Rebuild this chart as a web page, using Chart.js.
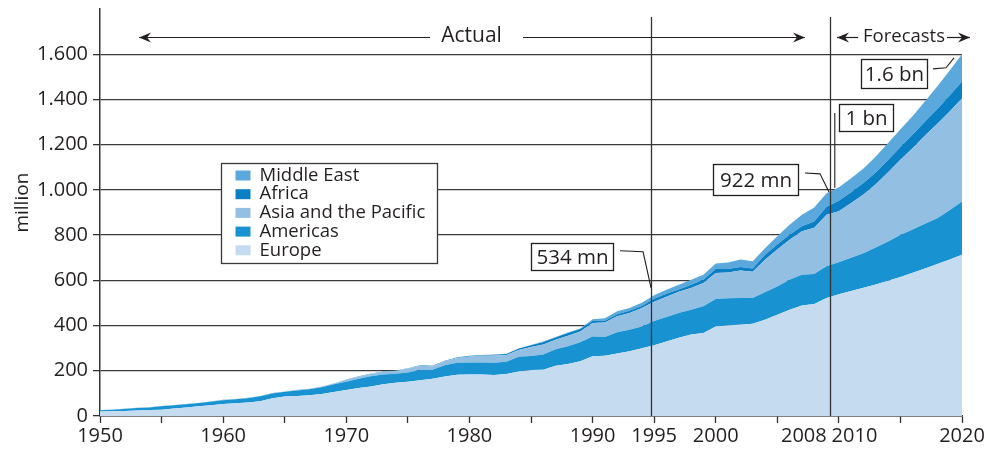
<!DOCTYPE html>
<html>
<head>
<meta charset="utf-8">
<script src="https://cdn.jsdelivr.net/npm/chart.js@4.4.1/dist/chart.umd.min.js"></script>
<style>
  html, body { margin: 0; padding: 0; background: #ffffff; }
  #wrap { width: 984px; height: 452px; }
</style>
</head>
<body>
<div id="wrap"><canvas id="chart" width="984" height="452"></canvas></div>
<script>
// International tourist arrivals by region, million (actual to 2008, forecasts to 2020)
const years = [1950,1951,1952,1953,1954,1955,1956,1957,1958,1959,
               1960,1961,1962,1963,1964,1965,1966,1967,1968,1969,
               1970,1971,1972,1973,1974,1975,1976,1977,1978,1979,
               1980,1981,1982,1983,1984,1985,1986,1987,1988,1989,
               1990,1991,1992,1993,1994,1995,1996,1997,1998,1999,
               2000,2001,2002,2003,2004,2005,2006,2007,2008,2009,
               2010,2011,2012,2013,2014,2015,2016,2017,2018,2019,2020];

const europe = [20,21,22,24,26,28,33,38,43,48,
                53,56,60,65,78,86,89,92,97,106,
                115,124,131,140,147,152,158,165,175,182,
                183,183,181,186,197,203,205,222,230,242,
                264,266,276,286,300,313,330,346,360,367,
                396,401,404,408,426,448,470,489,495,522,
                538,553,567,582,598,615,633,652,672,692,713];

const americas = [5,7,9,11,12,15,15,14,14,15,
                  17,18,19,22,22,21,24,26,30,34,
                  37,41,45,43,40,40,45,40,50,54,
                  54,54,55,54,65,62,67,73,78,84,
                  88,83,94,96,96,107,108,110,110,118,
                  121,120,118,114,121,125,133,136,133,140,
                  142,147,153,163,174,185,192,198,203,218,236];

const asiaPacific = [0.5,0.5,0.5,0.5,0.5,0.5,0.5,0.5,0.5,0.5,
                     1,1,1,1,1,1,2,2,3,3,
                     8,9,10,12,13,18,19,15,17,21,
                     26,29,32,30,30,40,44,42,47,48,
                     59,65,71,74,82,85,89,93,96,103,
                     115,114,122,116,144,163,177,192,205,228,
                     225,242,260,280,306,333,360,390,417,437,456];

const africa = [0.3,0.3,0.3,0.3,0.3,0.3,0.3,0.3,0.3,0.3,
                0.5,0.5,0.5,0.5,0.5,0.5,0.5,0.5,0.5,0.5,
                1,1,1,1,1,1,2,2,2,2,
                3,3,3,4,6,8,11,10,12,11,
                9,7,9,10,9,13,14,11,15,15,
                18,15,15,14,22,22,22,22,27,35,
                47,48,50,52,54,57,60,62,66,70,74];

const middleEast = [0.2,0.2,0.2,0.2,0.2,0.2,0.2,0.2,0.2,0.2,
                    0.2,0.2,0.2,0.2,0.2,0.2,0.2,0.2,0.2,0.2,
                    0.5,0.5,0.5,0.5,0.5,0.5,0.5,0.5,0.5,0.5,
                    1,1,1,1,1,1,2,2,2,2,
                    8,11,13,12,14,16,17,20,22,22,
                    24,29,33,32,29,37,44,51,62,60,
                    60,62,65,71,75,78,82,90,100,111,121];

const yTickValues = [0,200,400,600,800,1000,1200,1400,1600];
const xTickYears = [1950,1955,1960,1965,1970,1975,1980,1985,1990,1995,2000,2005,2008,2010,2015,2020];
const xLabelYears = [1950,1960,1970,1980,1990,1995,2000,2008,2010,2020];

const seriesNames = ['Europe','Americas','Asia and the Pacific','Africa','Middle East'];
const seriesValues = [europe, americas, asiaPacific, africa, middleEast];
const seriesColors = ['#c5dcf0','#1892d1','#93bfe3','#0a7fc4','#5ba8dc'];

// call-out boxes: x in years, y in million
const callouts = [
  { text: '534 mn', box: [1984.98, 764.6, 1991.68, 646.6], leader: [[1992.23, 730.6], [1994.10, 726.2], [1994.75, 567]] },
  { text: '922 mn', box: [1999.80, 1113, 2006.70, 978], leader: [[2007.25, 1075], [2008.47, 1071], [2009.2, 991]] },
  { text: '1 bn',   box: [2010.04, 1380, 2014.37, 1262], leader: [[2009.67, 1340], [2009.67, 1010]] },
  { text: '1.6 bn', box: [2011.78, 1578, 2017.13, 1450], leader: [[2017.65, 1535], [2018.70, 1540], [2019.35, 1584]] }
];
const dividerYears = [1994.75, 2009.25];

const INK = '#231f20';
const LINE = '#333333';
const FONT = '"Open Sans", "Noto Sans", sans-serif';

function thousands(v) {
  if (v >= 1000) return Math.floor(v / 1000) + '.' + String(v % 1000).padStart(3, '0');
  return String(v);
}

function xLabel(v) {
  if (!xLabelYears.includes(v)) return '';
  if (v === 2008) return '2008    ';
  if (v === 2010) return '      2010';
  return String(v);
}

function arrowHead(ctx, tipX, y, dir) {
  const len = 12, half = 5, notch = 8;
  ctx.beginPath();
  ctx.moveTo(tipX, y);
  ctx.lineTo(tipX - dir * len, y - half);
  ctx.lineTo(tipX - dir * notch, y);
  ctx.lineTo(tipX - dir * len, y + half);
  ctx.closePath();
  ctx.fill();
}

const overlay = {
  id: 'overlay',
  afterDatasetsDraw(chart) {
    const { ctx, scales: { x, y } } = chart;
    ctx.save();
    ctx.strokeStyle = LINE;
    ctx.lineWidth = 1.3;
    dividerYears.forEach(yr => {
      const px = Math.round(x.getPixelForValue(yr)) + 0.5;
      ctx.beginPath();
      ctx.moveTo(px, y.getPixelForValue(1765));
      ctx.lineTo(px, y.getPixelForValue(0));
      ctx.stroke();
    });
    ctx.restore();
  },
  afterDraw(chart) {
    const { ctx, scales: { x, y } } = chart;
    ctx.save();
    ctx.fillStyle = INK;
    ctx.strokeStyle = INK;

    // period arrows along the top
    const ay = Math.round(y.getPixelForValue(1676)) + 0.5;
    ctx.lineWidth = 1.2;
    const segs = [[1953.17, 1976.8], [1984.35, 2007.25], [2009.85, 2011.56], [2018.78, 2020.65]];
    segs.forEach(([a, b]) => {
      ctx.beginPath();
      ctx.moveTo(x.getPixelForValue(a), ay);
      ctx.lineTo(x.getPixelForValue(b), ay);
      ctx.stroke();
    });
    arrowHead(ctx, x.getPixelForValue(1953.17), ay, -1);
    arrowHead(ctx, x.getPixelForValue(2007.25), ay, 1);
    arrowHead(ctx, x.getPixelForValue(2009.85), ay, -1);
    arrowHead(ctx, x.getPixelForValue(2020.65), ay, 1);
    ctx.textAlign = 'center';
    ctx.textBaseline = 'middle';
    ctx.font = '21px ' + FONT;
    ctx.fillText('Actual', x.getPixelForValue(1980.17), ay - 1);
    ctx.font = '18.5px ' + FONT;
    ctx.fillText('Forecasts', x.getPixelForValue(2015.29), ay - 1);

    // call-outs
    callouts.forEach(c => {
      ctx.lineWidth = 1.1;
      ctx.strokeStyle = INK;
      ctx.beginPath();
      c.leader.forEach(([lx, ly], i) => {
        const px = x.getPixelForValue(lx), py = y.getPixelForValue(ly);
        if (i === 0) ctx.moveTo(px, py); else ctx.lineTo(px, py);
      });
      ctx.stroke();
      const x0 = Math.round(x.getPixelForValue(c.box[0])) + 0.5;
      const y0 = Math.round(y.getPixelForValue(c.box[1])) + 0.5;
      const x1 = Math.round(x.getPixelForValue(c.box[2])) + 0.5;
      const y1 = Math.round(y.getPixelForValue(c.box[3])) + 0.5;
      ctx.fillStyle = '#ffffff';
      ctx.fillRect(x0, y0, x1 - x0, y1 - y0);
      ctx.lineWidth = 1.3;
      ctx.strokeRect(x0, y0, x1 - x0, y1 - y0);
      ctx.fillStyle = INK;
      ctx.font = '20.5px ' + FONT;
      ctx.textAlign = 'center';
      ctx.textBaseline = 'middle';
      ctx.fillText(c.text, (x0 + x1) / 2, (y0 + y1) / 2 + 1);
    });

    // legend box
    const lx = Math.round(x.getPixelForValue(1959.83)) + 0.5;
    const ly = Math.round(y.getPixelForValue(1120)) + 0.5;
    const lw = 216, lh = 100;
    ctx.fillStyle = '#ffffff';
    ctx.fillRect(lx, ly, lw, lh);
    ctx.lineWidth = 1.3;
    ctx.strokeStyle = '#3a3a3a';
    ctx.strokeRect(lx, ly, lw, lh);
    ctx.font = '18.5px ' + FONT;
    ctx.textAlign = 'left';
    ctx.textBaseline = 'middle';
    const order = chart.data.datasets.slice().reverse();
    order.forEach((ds, i) => {
      const cy = ly + 12 + i * 18.7;
      ctx.fillStyle = ds.backgroundColor;
      ctx.fillRect(lx + 14, cy - 5, 15, 10);
      ctx.fillStyle = INK;
      ctx.fillText(ds.label, lx + 38, cy);
    });
    ctx.restore();
  }
};

const datasets = seriesNames.map((name, i) => ({
  label: name,
  data: years.map((yr, k) => ({ x: yr, y: seriesValues[i][k] })),
  backgroundColor: seriesColors[i],
  borderColor: seriesColors[i],
  borderWidth: 0,
  pointRadius: 0,
  tension: 0,
  fill: i === 0 ? 'origin' : '-1'
}));

new Chart(document.getElementById('chart'), {
  type: 'line',
  data: { datasets },
  options: {
    responsive: false,
    animation: false,
    events: [],
    layout: { padding: { top: 9, right: 22, left: 0, bottom: 0 } },
    plugins: { legend: { display: false }, tooltip: { enabled: false } },
    scales: {
      x: {
        type: 'linear',
        min: 1950,
        max: 2020,
        afterBuildTicks: s => { s.ticks = xTickYears.map(v => ({ value: v })); },
        afterFit: s => { s.height = 36; s.paddingLeft = 0; s.paddingRight = 0; },
        border: { display: true, color: LINE, width: 1.5 },
        grid: {
          drawOnChartArea: false,
          drawTicks: true,
          tickLength: 7,
          tickWidth: 1.3,
          tickColor: c => (c.tick && c.tick.value === 2008) ? 'rgba(0,0,0,0)' : LINE
        },
        ticks: {
          autoSkip: false,
          maxRotation: 0,
          minRotation: 0,
          padding: 1,
          color: INK,
          font: { family: FONT, size: 20 },
          callback: v => xLabel(v)
        }
      },
      y: {
        stacked: true,
        min: 0,
        max: 1800,
        afterBuildTicks: s => { s.ticks = yTickValues.map(v => ({ value: v })); },
        afterFit: s => { s.width = 100; s.paddingTop = 0; s.paddingBottom = 0; },
        border: { display: true, color: LINE, width: 1.5 },
        grid: { color: '#3a3a3a', lineWidth: 1.3, drawTicks: true, tickLength: 7, tickColor: LINE },
        ticks: {
          padding: 5,
          color: INK,
          font: { family: FONT, size: 20 },
          callback: v => thousands(v)
        },
        title: {
          display: true,
          text: '    million',
          color: INK,
          font: { family: FONT, size: 19 },
          padding: { top: 11, bottom: 0 }
        }
      }
    }
  },
  plugins: [overlay]
});
</script>
</body>
</html>
